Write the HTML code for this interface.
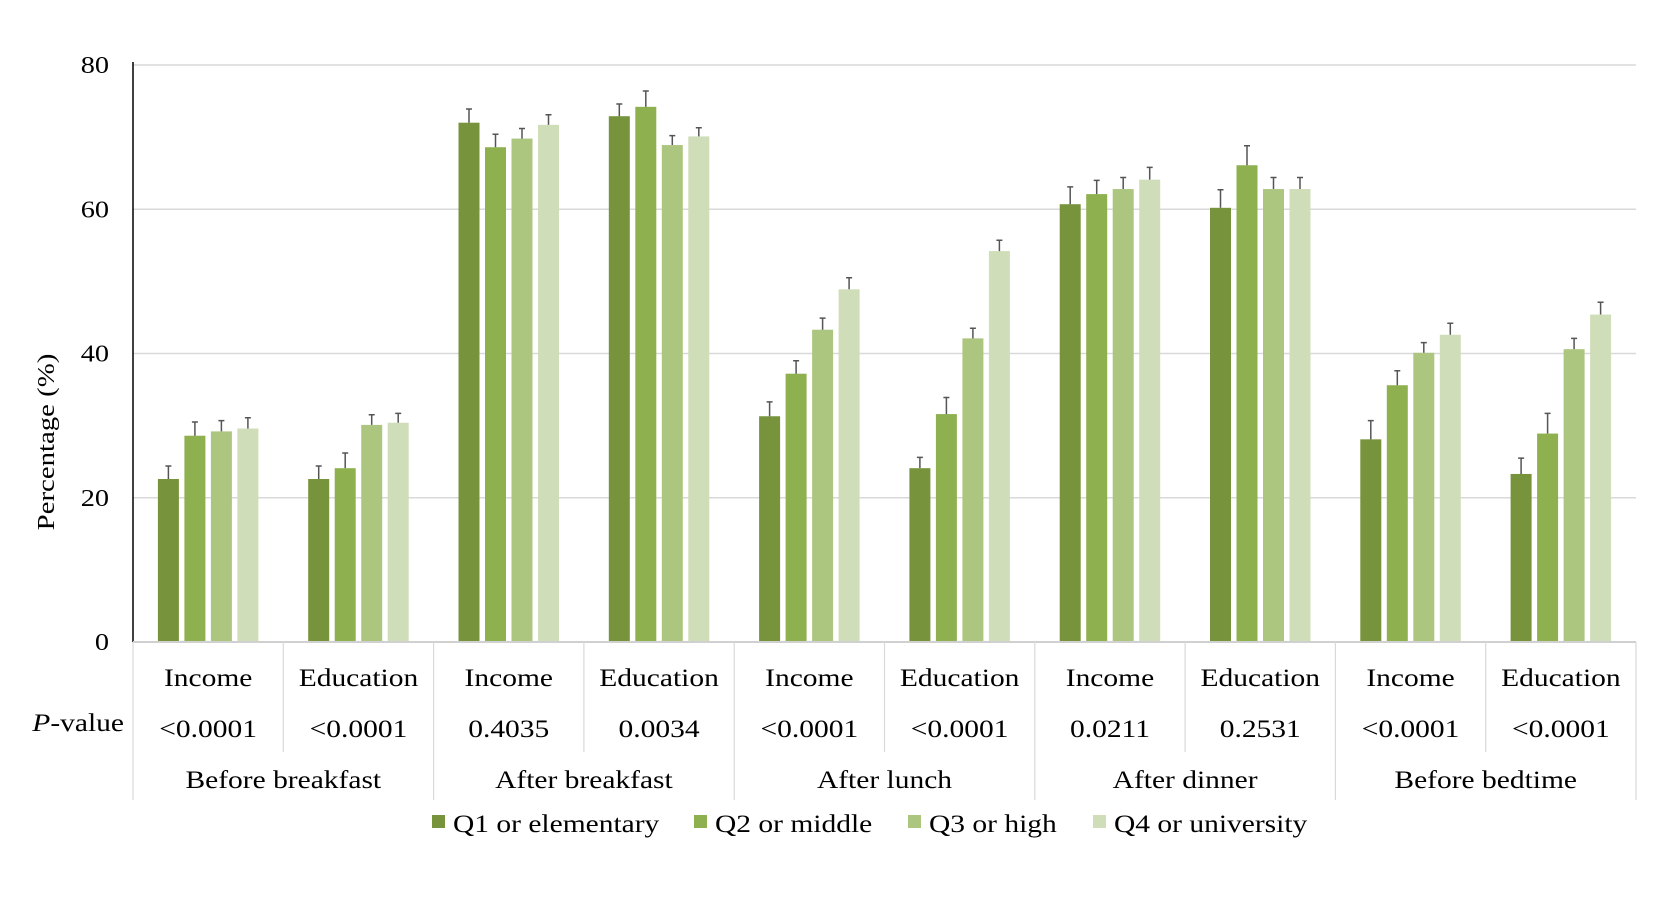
<!DOCTYPE html>
<html><head><meta charset="utf-8"><style>
html,body{margin:0;padding:0;background:#fff;}
svg{display:block;font-family:"Liberation Serif",serif;}
</style></head><body>
<svg id="chart" width="1654" height="917" viewBox="0 0 1654 917" xmlns="http://www.w3.org/2000/svg"></svg>
<script>
const categories = ["Income","Education","Income","Education","Income","Education","Income","Education","Income","Education"];
const pValues = ["<0.0001","<0.0001","0.4035","0.0034","<0.0001","<0.0001","0.0211","0.2531","<0.0001","<0.0001"];
const periods = ["Before breakfast","After breakfast","After lunch","After dinner","Before bedtime"];
const seriesNames = ["Q1 or elementary","Q2 or middle","Q3 or high","Q4 or university"];
const q1 = [22.6,22.6,72.0,72.9,31.3,24.1,60.7,60.2,28.1,23.3];
const q2 = [28.6,24.1,68.6,74.2,37.2,31.6,62.1,66.1,35.6,28.9];
const q3 = [29.2,30.1,69.8,68.9,43.3,42.1,62.8,62.8,40.1,40.6];
const q4 = [29.6,30.4,71.7,70.1,48.9,54.2,64.1,62.8,42.6,45.4];
const e1 = [1.8,1.8,1.9,1.7,2.0,1.5,2.4,2.5,2.6,2.2];
const e2 = [1.9,2.1,1.8,2.2,1.8,2.3,1.9,2.7,2.0,2.8];
const e3 = [1.5,1.4,1.4,1.3,1.6,1.4,1.6,1.6,1.4,1.5];
const e4 = [1.5,1.3,1.4,1.2,1.6,1.5,1.7,1.6,1.6,1.7];
const yTicks = [0,20,40,60,80];

const svg = document.getElementById('chart');
const NS = "http://www.w3.org/2000/svg";
const X0 = 133, X1 = 1636, Y0 = 642, Y80 = 65;
const groupW = (X1 - X0) / categories.length;
const yScale = v => Y0 - (v / 80) * (Y0 - Y80);
const colors = ["#77933c","#8fb04f","#adc67f","#cfddb8"];
const series = [q1,q2,q3,q4];
const errs = [e1,e2,e3,e4];
const SX = 1.18;
function mk(tag, attrs, parent){ const el=document.createElementNS(NS,tag); for(const k in attrs) el.setAttribute(k,attrs[k]); (parent||svg).appendChild(el); return el; }
function txt(x,y,anchor,size,parent){ return mk('text',{x:0,y:0,'text-anchor':anchor,'font-size':size,transform:`translate(${x},${y}) scale(${SX},1)`},parent); }

yTicks.forEach(t=>{
  const y=yScale(t);
  if(t>0){ const g=mk('line',{x1:X0,x2:X1,y1:y,y2:y,stroke:'#d9d9d9','stroke-width':1.5});
    }
  const tx=txt(109,y+8,'end',24);
  tx.textContent=t;
   
});
const yt=mk('text',{x:0,y:0,'font-size':24,'text-anchor':'middle',transform:'translate(54,442) rotate(-90) scale(1.2,1)'});
yt.textContent='Percentage (%)';
 

const barW=21, barStep=26.5;
categories.forEach((c,i)=>{
  const cx=X0+groupW*(i+0.5);
  series.forEach((s,k)=>{
    const bx=cx+(k-1.5)*barStep-barW/2;
    const y=yScale(s[i]);
    const r=mk('rect',{x:bx,y:y,width:barW,height:Y0-y,fill:colors[k]});
    
    
    const ex=bx+barW/2, ey1=yScale(s[i]+errs[k][i]);
    const el=mk('path',{d:`M${ex},${y}V${ey1}M${ex-3},${ey1}H${ex+3}`,stroke:'#555','stroke-width':1.5,fill:'none'});
    
    
  });
  const ct=txt(cx,686,'middle',25);
  ct.textContent=c;
   
  const pv=txt(cx,737,'middle',25);
  pv.textContent=pValues[i];
   
});
mk('line',{x1:X0,x2:X0,y1:Y80-3,y2:Y0,stroke:'#000','stroke-width':1.5});
mk('line',{x1:X0,x2:X1,y1:Y0,y2:Y0,stroke:'#d0d0d0','stroke-width':2});
for(let i=0;i<=categories.length;i++){
  const x=X0+groupW*i;
  const bottom = (i%2===0)?800:752;
  const d=mk('line',{x1:x,x2:x,y1:Y0,y2:bottom,stroke:'#d9d9d9','stroke-width':1.2});
   
}
const pl=txt(124,731,'end',25);
pl.innerHTML='<tspan font-style="italic">P</tspan>-value';
 
periods.forEach((p,j)=>{
  const t=txt(X0+groupW*(2*j+1),788,'middle',25);
  t.textContent=p;
   
});
const legX=[432,694,908,1093];
seriesNames.forEach((n,k)=>{
  const g=mk('g',{});
  
  
  mk('rect',{x:legX[k],y:815,width:13,height:13,fill:colors[k]},g);
  const t=txt(legX[k]+21,832,'start',25,g);
  t.textContent=n;
});
</script>
</body></html>
